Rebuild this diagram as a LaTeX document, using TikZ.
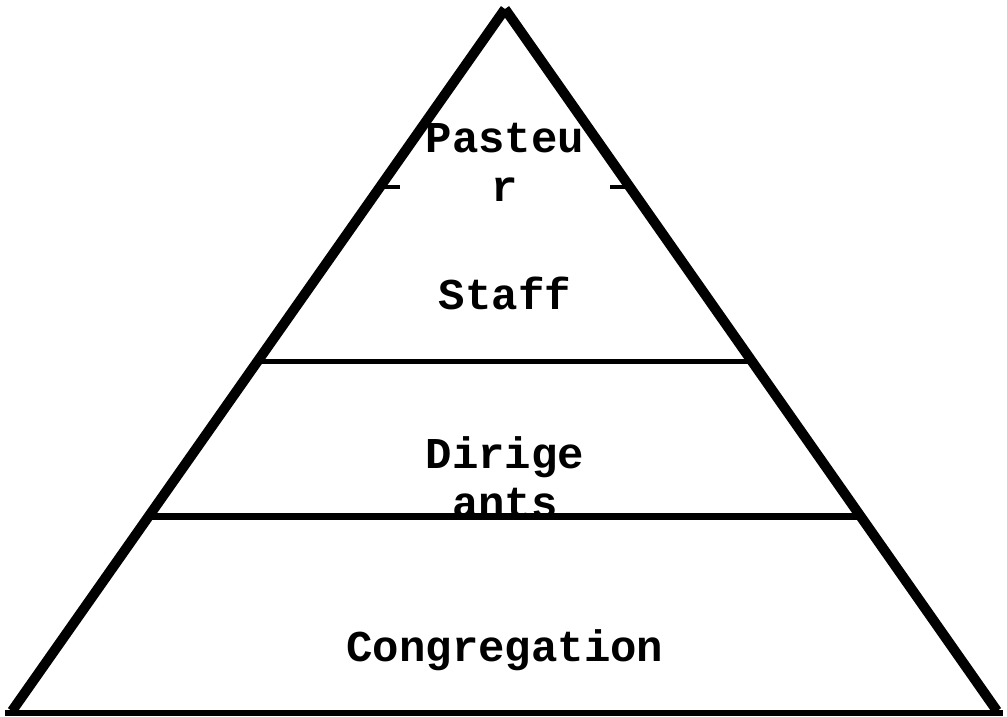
\documentclass[tikz,border=0pt]{standalone}
\usepackage{fontspec}
\setmonofont{Liberation Mono}
\begin{document}
\begin{tikzpicture}[x=1pt,y=1pt,
  lbl/.style={font=\ttfamily\bfseries\fontsize{44}{49}\selectfont, inner sep=0pt, anchor=base, align=center},
  side/.style={line width=10pt},
  tier/.style={line width=#1}]
\useasboundingbox (0,0) rectangle (1007,717);
\coordinate (apex) at (505,708);
\coordinate (bl) at (12,6);
\coordinate (br) at (997,6);
\coordinate (b1) at (5,4);
\coordinate (b2) at (1003,4);
\draw[side] (apex) -- (bl);
\draw[side] (apex) -- (br);
\draw[tier=6pt] (b1) -- (b2);
% tier lines
\coordinate (s1l) at (257,355);
\coordinate (s1r) at (753,355);
\coordinate (s2l) at (151,200);
\coordinate (s2r) at (859,200);
\draw[tier=5pt] (s1l) -- (s1r);
\draw[tier=7pt] (s2l) -- (s2r);
% small ticks
\coordinate (t1a) at (384,530);
\coordinate (t1b) at (400,530);
\coordinate (t2a) at (610,530);
\coordinate (t2b) at (627,530);
\draw[tier=4.5pt] (t1a) -- (t1b);
\draw[tier=4.5pt] (t2a) -- (t2b);
% labels
\node[lbl] (pasteur) at (505,515) {Pasteu\\r};
\node[lbl] (staff) at (505,407) {Staff};
\node[lbl] (dirig) at (505,199) {Dirige\\ants};
\node[lbl] (congr) at (505,55) {Congregation};
\end{tikzpicture}
\end{document}
